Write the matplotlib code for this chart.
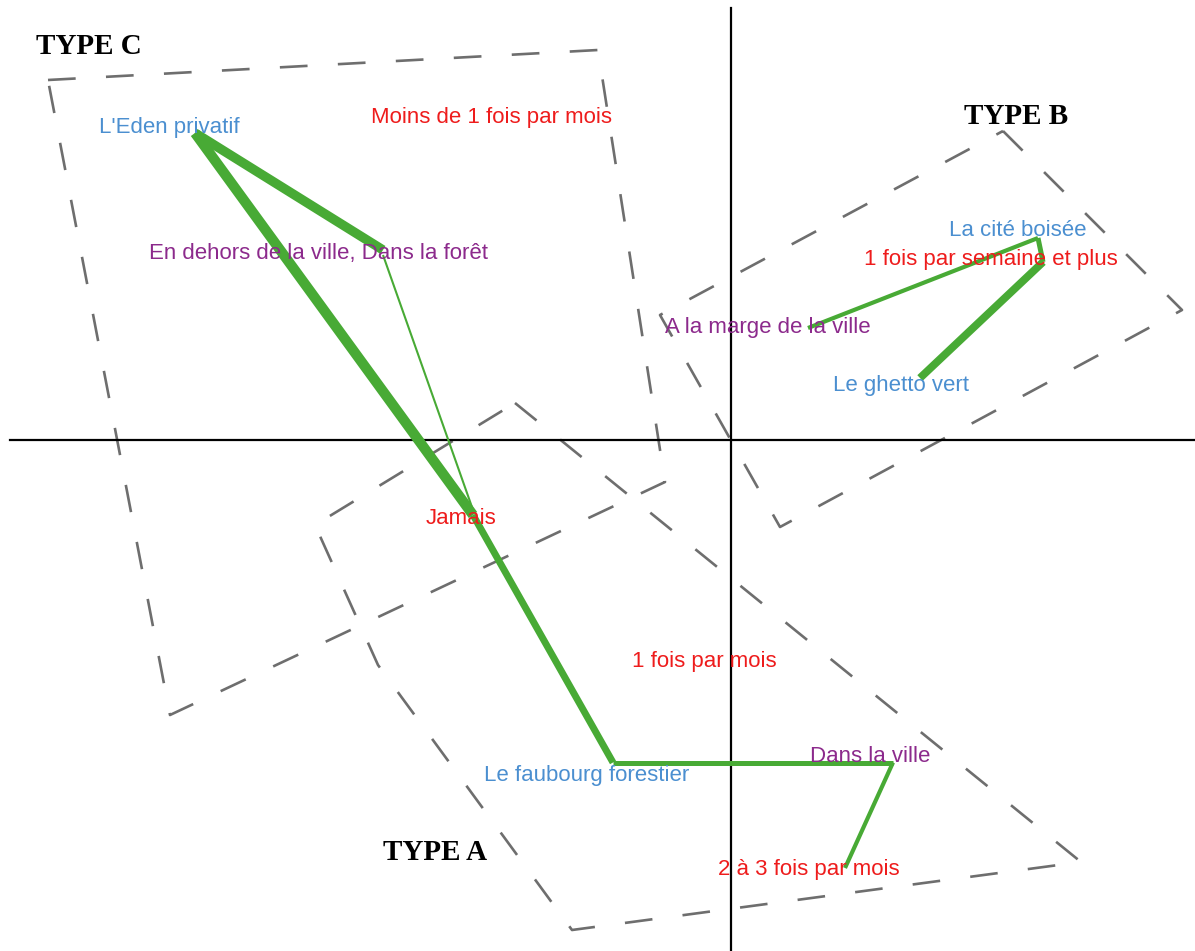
import matplotlib
matplotlib.use("Agg")
import matplotlib.pyplot as plt

# factor-plane coordinates (origin = crossing of the two axes)
labels = ["L'Eden privatif", "Moins de 1 fois par mois", "En dehors de la ville, Dans la forêt",
          "La cité boisée", "1 fois par semaine et plus", "A la marge de la ville",
          "Le ghetto vert", "Jamais", "1 fois par mois", "Dans la ville",
          "Le faubourg forestier", "2 à 3 fois par mois"]
label_x = [-5.62, -2.40, -4.13, 2.87, 2.60, 0.37, 1.70, -2.70, -0.27, 1.39, -1.44, 0.78]
label_y = [3.12, 3.22, 1.87, 2.10, 1.80, 1.13, 0.55, -0.78, -2.21, -3.16, -3.36, -4.30]
label_kind = ["type", "freq", "place", "type", "freq", "place",
              "type", "freq", "freq", "place", "type", "freq"]

# links between modalities: (x0, y0, x1, y1, weight)
link_x0 = [-5.36, -5.36, -3.48, -2.58, -1.18, 1.62, 0.77, 3.07, 3.12]
link_y0 = [3.07, 3.07, 1.85, -0.75, -3.225, -3.225, 1.12, 2.02, 1.78]
link_x1 = [-3.48, -2.58, -2.58, -1.18, 1.62, 1.14, 3.07, 3.12, 1.89]
link_y1 = [1.90, -0.75, -0.70, -3.225, -3.225, -4.28, 2.02, 1.78, 0.62]
link_w = [6.8, 7.4, 1.5, 5.0, 3.6, 3.0, 3.0, 3.6, 5.6]

# dashed envelopes of the three types
type_names = ["TYPE C", "TYPE B", "TYPE A"]
type_x = [-6.42, 2.85, -2.96]
type_y = [3.93, 3.24, -4.12]
env_c_x = [-6.83, -1.33, -0.66, -5.61]
env_c_y = [3.60, 3.90, -0.42, -2.75]
env_b_x = [2.72, 4.51, 0.49, -0.71]
env_b_y = [3.09, 1.30, -0.87, 1.25]
env_a_x = [-2.16, 3.50, -1.59, -3.53, -4.16]
env_a_y = [0.37, -4.22, -4.90, -2.25, -0.85]

colors = {"type": "#4b8fd0", "freq": "#ee1c1c", "place": "#8c2a8c"}

fig = plt.figure(figsize=(11.95, 9.51), dpi=100)
ax = fig.add_axes([0, 0, 1, 1])
ax.set_xlim(-7.31, 4.64)
ax.set_ylim(-5.11, 4.40)
ax.axis("off")

# axes of the factor plane
ax.plot([-7.21, 4.64], [0, 0], color="black", lw=1.6, zorder=2)
ax.plot([0, 0], [-5.11, 4.32], color="black", lw=1.6, zorder=2)

for ex, ey in [(env_c_x, env_c_y), (env_b_x, env_b_y), (env_a_x, env_a_y)]:
    ax.plot(ex + ex[:1], ey + ey[:1], color="#6e6e6e", lw=1.9,
            linestyle=(0, (10.5, 11.5)), zorder=1)

for i in range(len(link_w)):
    ax.plot([link_x0[i], link_x1[i]], [link_y0[i], link_y1[i]],
            color="#48aa35", lw=link_w[i], solid_capstyle="butt", zorder=3)

for t, x, y, k in zip(labels, label_x, label_y, label_kind):
    ax.text(x, y, t, color=colors[k], fontsize=16, family="Liberation Sans",
            ha="center", va="center", zorder=4)

for t, x, y in zip(type_names, type_x, type_y):
    ax.text(x, y, t, fontsize=21, family="Liberation Serif", weight="bold",
            ha="center", va="center", zorder=4)

fig.savefig("out.png", dpi=100)
